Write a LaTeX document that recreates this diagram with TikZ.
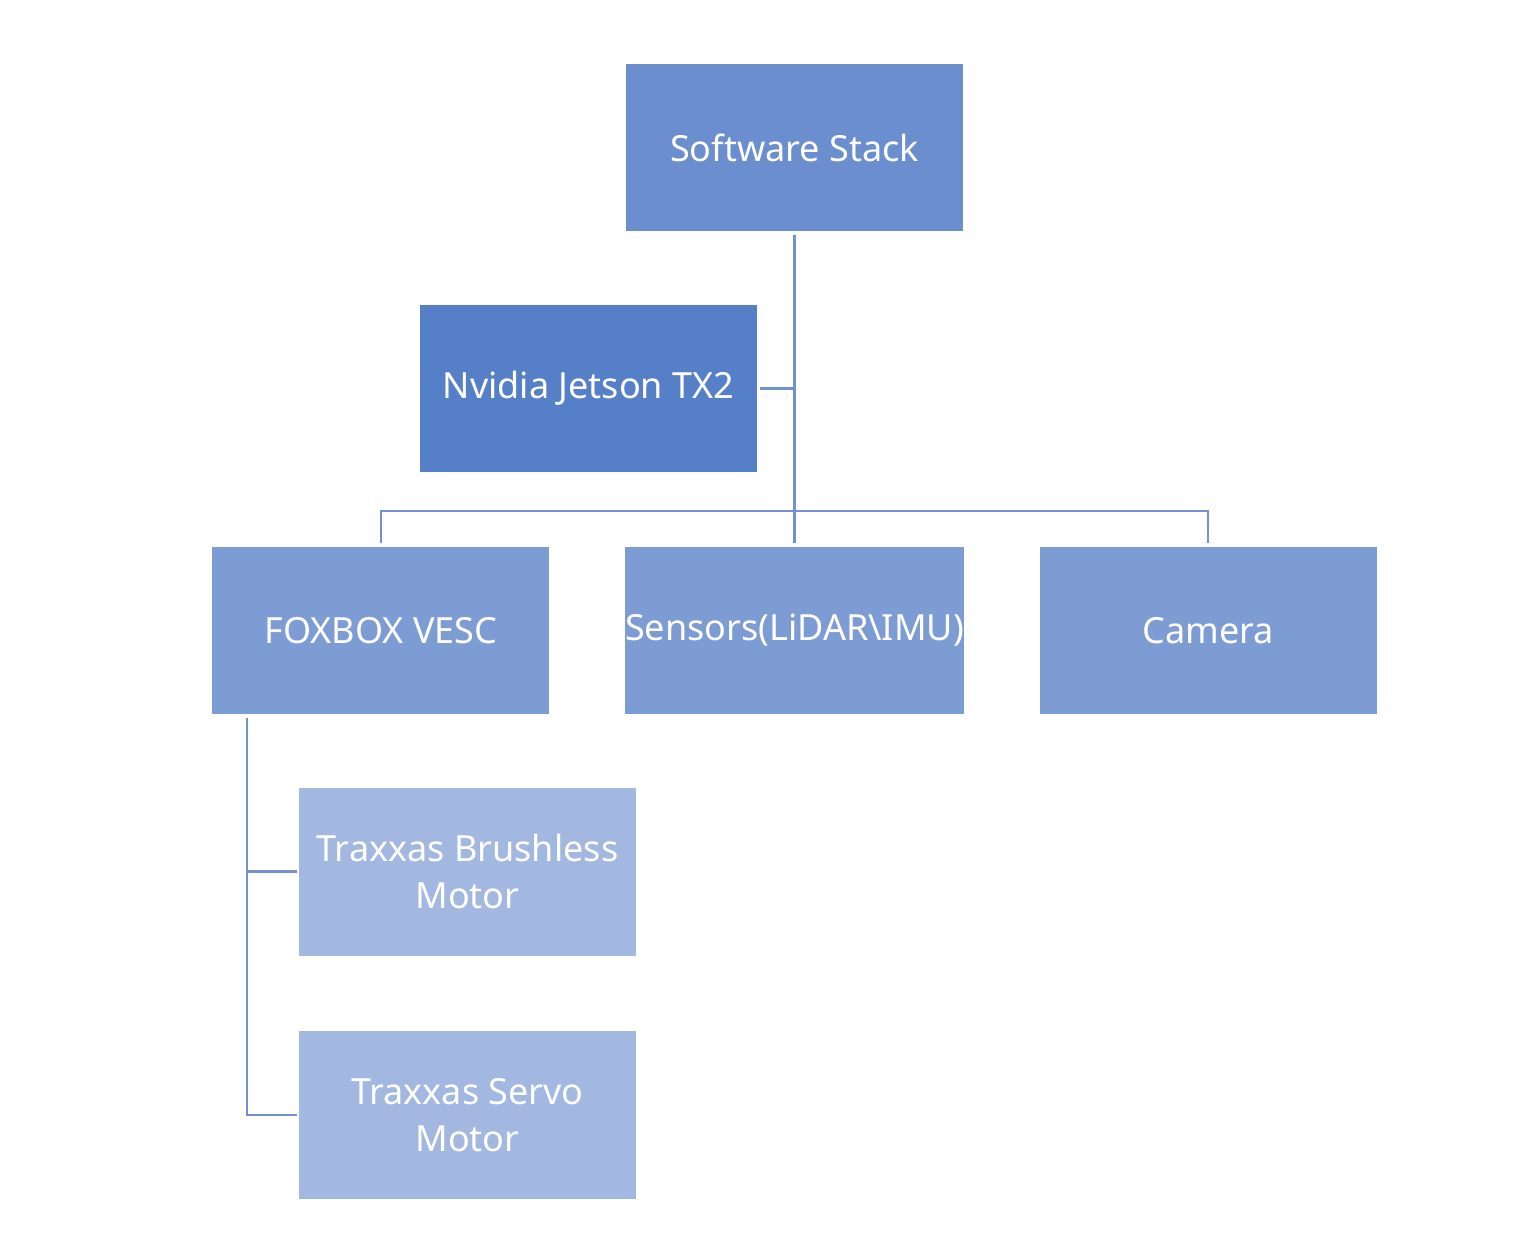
\documentclass[tikz,border=0pt]{standalone}
\usepackage{fontspec}
\setmainfont{Noto Sans}
\usetikzlibrary{positioning}
\definecolor{topblue}{HTML}{6A8ECE}
\definecolor{jetblue}{HTML}{5580C8}
\definecolor{midblue}{HTML}{7D9CD4}
\definecolor{lowblue}{HTML}{A2B8E0}
\definecolor{linkblue}{HTML}{7391D0}

\begin{document}
\begin{tikzpicture}[x=0.02cm, y=-0.02cm,
	box/.style={rectangle, minimum width=6.74cm, minimum height=3.36cm, inner sep=0pt,
		text=white, align=center, font=\fontsize{20.5}{27}\selectfont},
	link/.style={draw=linkblue, line width=1.3pt, shorten <=0.06cm, shorten >=0.06cm}]
	\useasboundingbox (0,0) rectangle (1540,1248);

	\node[box, fill=topblue] (stack) at (794.5,147.5) {Software Stack};
	\node[box, fill=jetblue] (jetson) at (588.5,388.5) {Nvidia Jetson TX2};
	\node[box, fill=midblue] (sensors) at (794.5,630.5) {Sensors(LiDAR\textbackslash IMU)};
	\node[box, fill=midblue, left=1.5cm of sensors] (foxbox) {FOXBOX VESC};
	\node[box, fill=midblue, right=1.5cm of sensors] (camera) {Camera};
	\node[box, fill=lowblue] (brushless) at (467.5,871.5) {Traxxas Brushless\\Motor};
	\node[box, fill=lowblue, below=1.5cm of brushless] (servo) {Traxxas Servo\\Motor};

	\coordinate (bus) at (794.5,511);
	\coordinate (trunk) at (247,715);

	\draw[link] (stack.south) -- (sensors.north);
	\draw[link, shorten >=0pt] (jetson.east) -- (jetson.east -| stack.south);
	\draw[link, shorten >=0pt] (foxbox.north) -- (foxbox.north |- bus) -- (bus);
	\draw[link, shorten <=0pt] (bus) -- (camera.north |- bus) -- (camera.north);
	\draw[link, shorten <=0.06cm, shorten >=0.04cm] (trunk) -- (trunk |- servo.west) -- (servo.west);
	\draw[link, shorten <=0pt, shorten >=0.04cm] (trunk |- brushless.west) -- (brushless.west);
\end{tikzpicture}
\end{document}
